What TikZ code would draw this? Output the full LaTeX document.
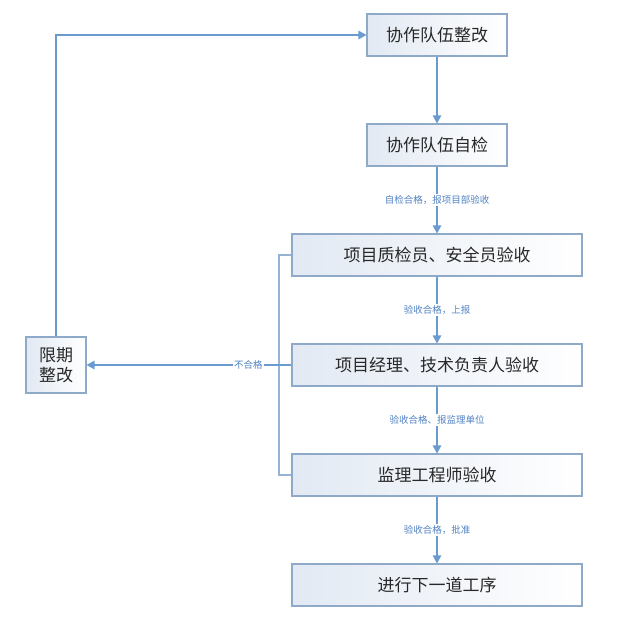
\documentclass[tikz,border=0pt]{standalone}
\usepackage{fontspec}
\setmainfont{Noto Sans CJK SC}
\usetikzlibrary{arrows.meta}
\definecolor{boxline}{RGB}{143,169,200}
\definecolor{boxfill}{RGB}{226,233,243}
\definecolor{conn}{RGB}{106,155,208}
\definecolor{brack}{RGB}{150,178,212}
\definecolor{lbl}{RGB}{80,130,195}
\definecolor{txt}{RGB}{40,40,40}
\tikzset{
  stepbox/.style={draw=boxline, line width=1.1pt, left color=boxfill, right color=white,
    minimum height=42pt, inner sep=0pt, text=txt, font=\fontsize{17pt}{20pt}\selectfont},
  narrowbox/.style={stepbox, minimum width=140pt},
  widebox/.style={stepbox, minimum width=290pt},
  flow/.style={draw=conn, line width=1.2pt, -{Triangle[width=8.5pt,length=8pt]}},
  brackline/.style={draw=brack, line width=1.1pt},
  lab/.style={fill=white, text=lbl, inner sep=1.5pt, font=\fontsize{9.5pt}{11pt}\selectfont}
}
\begin{document}
\begin{tikzpicture}[x=1pt,y=-1pt]
\useasboundingbox (0,0) rectangle (640,624);
\node[narrowbox] (b1) at (437,35) {协作队伍整改};
\node[narrowbox] (b2) at (437,145) {协作队伍自检};
\node[widebox] (b3) at (437,255) {项目质检员、安全员验收};
\node[widebox] (b4) at (437,365) {项目经理、技术负责人验收};
\node[widebox] (b5) at (437,475) {监理工程师验收};
\node[widebox] (b6) at (437,585) {进行下一道工序};
\node[stepbox, minimum width=60pt, minimum height=56pt, align=center] (lt) at (56,365) {限期\\整改};
\coordinate (c3) at (279,255);
\coordinate (c5) at (279,475);
\draw[flow] (b1.south) -- (b2.north);
\draw[flow] (b2.south) -- node[lab] {自检合格，报项目部验收} (b3.north);
\draw[flow] (b3.south) -- node[lab] {验收合格，上报} (b4.north);
\draw[flow] (b4.south) -- node[lab] {验收合格、报监理单位} (b5.north);
\draw[flow] (b5.south) -- node[lab] {验收合格，批准} (b6.north);
\draw[brackline] (b3.west) -- (c3) -- (c5) -- (b5.west);
\draw[flow] (b4.west) -- node[lab, pos=0.21] {不合格} (lt.east);
\draw[flow] (lt.north) |- (b1.west);
\end{tikzpicture}
\end{document}
